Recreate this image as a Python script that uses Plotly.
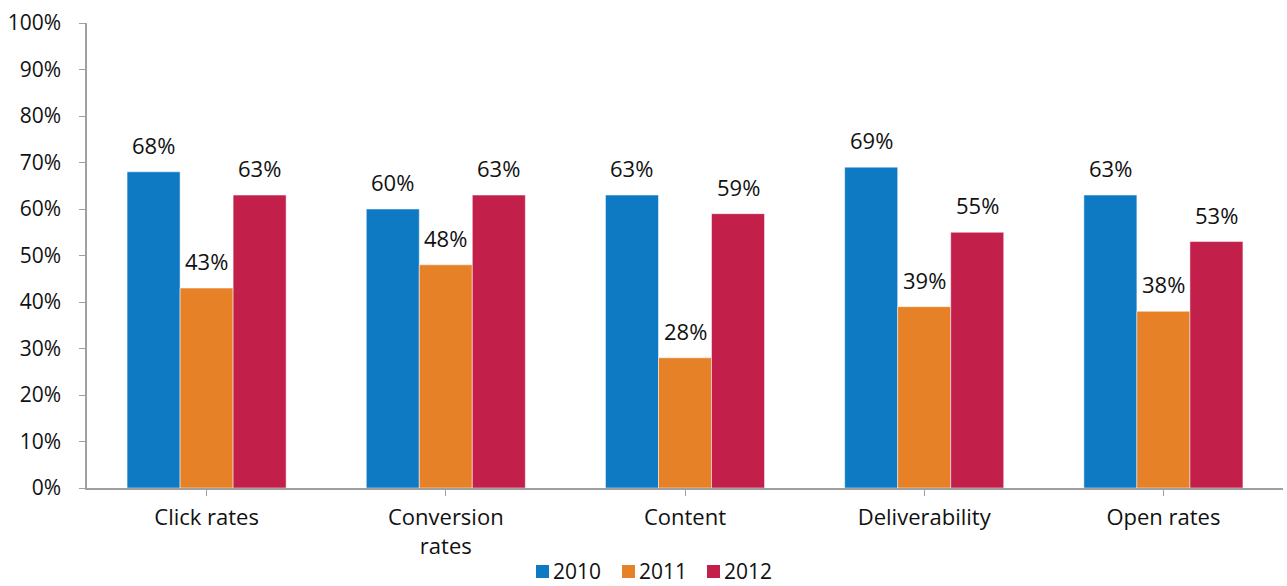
import plotly.graph_objects as go

categories = ["Click rates", "Conversion<br>rates", "Content", "Deliverability", "Open rates"]
years = ["2010", "2011", "2012"]
values_2010 = [68, 60, 63, 69, 63]
values_2011 = [43, 48, 28, 39, 38]
values_2012 = [63, 63, 59, 55, 53]
colors = ["#0E7AC4", "#E68127", "#C2204B"]

series = [values_2010, values_2011, values_2012]
FONT = "Open Sans"
BARGAP = 0.335
bar_w = (1 - BARGAP) / len(series)

W, H = 1287, 586
ML, MR, MT, MB = 87, 4, 23, 98
PW, PH = W - ML - MR, H - MT - MB

fig = go.Figure()
for name, vals, col in zip(years, series, colors):
    fig.add_trace(go.Bar(
        x=list(range(len(categories))), y=vals, name=name,
        marker=dict(color=col, line=dict(width=0.5, color="white")),
    ))

# value labels above each bar
for j, vals in enumerate(series):
    for i, v in enumerate(vals):
        fig.add_annotation(
            x=i + (j - 1) * bar_w, y=v, text=f"{v}%", showarrow=False,
            yanchor="middle", yshift=27,
            font=dict(family=FONT, size=22, color="#111"),
        )

# legend drawn below the axis: colour square + year label
def px_x(p):
    return (p - ML) / PW

def px_y(p):
    return (H - MB - p) / PH

legend_x = [536, 622, 707]
for lx, name, col in zip(legend_x, years, colors):
    fig.add_shape(type="rect", xref="paper", yref="paper",
                  x0=px_x(lx), x1=px_x(lx + 13), y0=px_y(578), y1=px_y(565),
                  fillcolor=col, line=dict(width=0))
    fig.add_annotation(xref="paper", yref="paper", x=px_x(lx + 15), y=px_y(571),
                       text=name, showarrow=False, xanchor="left", yanchor="middle",
                       font=dict(family=FONT, size=21, color="#111"))

fig.update_layout(
    width=W, height=H,
    margin=dict(l=ML, r=MR, t=MT, b=MB),
    paper_bgcolor="white", plot_bgcolor="white",
    barmode="group", bargap=BARGAP, bargroupgap=0,
    font=dict(family=FONT, size=21, color="#111"),
    showlegend=False,
)
fig.update_xaxes(
    tickmode="array", tickvals=list(range(len(categories))), ticktext=categories,
    range=[-0.5, len(categories) - 0.5],
    showline=True, linecolor="#A0A0A0", linewidth=1.5,
    ticks="outside", ticklen=6, tickcolor="#A0A0A0", tickson="boundaries",
    ticklabelstandoff=3, showgrid=False, zeroline=False,
    tickfont=dict(family=FONT, size=22, color="#111"),
)
fig.update_yaxes(
    range=[0, 100], dtick=10, ticksuffix="%",
    showline=True, linecolor="#A0A0A0", linewidth=1.5,
    ticks="outside", ticklen=6, tickcolor="#A0A0A0",
    ticklabelstandoff=14, showgrid=False, zeroline=False,
    tickfont=dict(family=FONT, size=21, color="#111"),
)

fig.write_html("out.html")
